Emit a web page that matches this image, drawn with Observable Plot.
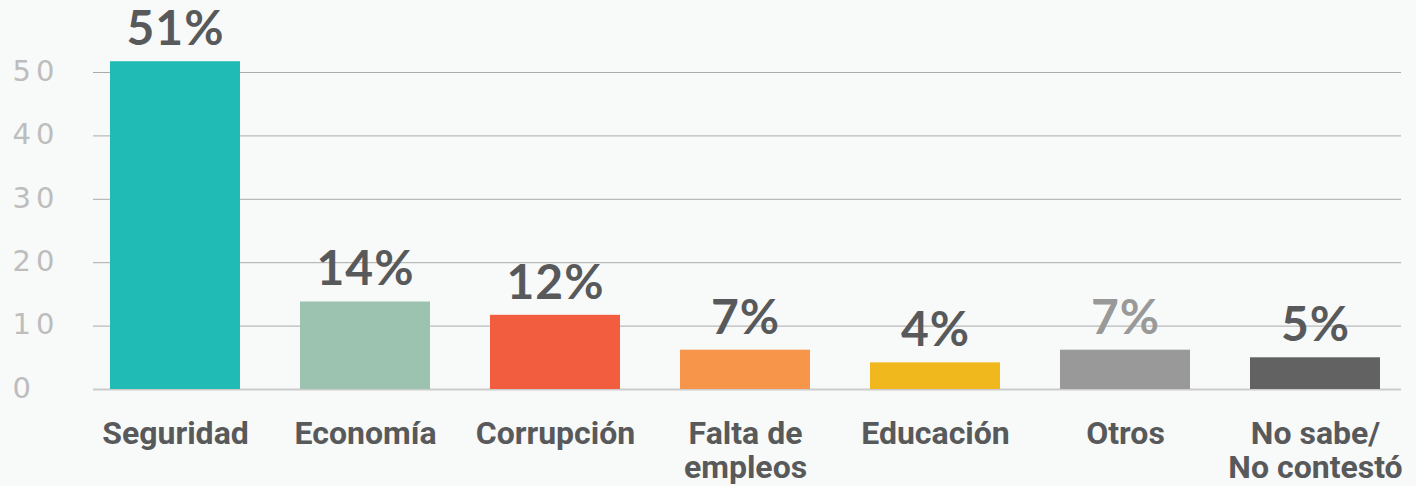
<!DOCTYPE html>
<html>
<head>
<meta charset="utf-8">
<script src="https://cdn.jsdelivr.net/npm/d3@7"></script>
<script src="https://cdn.jsdelivr.net/npm/@observablehq/plot@0.6"></script>
<style>
  html, body { margin: 0; padding: 0; background: #f8f9f9; }
  #chart svg { display: block; }
  #chart g[aria-label="y-axis tick label"] text { letter-spacing: 5px; }
  #chart g.value-labels text { letter-spacing: 1px; }
</style>
</head>
<body>
<div id="chart"></div>
<script>
const categories = ["Seguridad", "Economía", "Corrupción", "Falta de\nempleos", "Educación", "Otros", "No sabe/\nNo contestó"];
const values = [51.7, 13.8, 11.7, 6.2, 4.2, 6.2, 5.0];
const valueLabels = ["51%", "14%", "12%", "7%", "4%", "7%", "5%"];
const barColors = ["#20bbb4", "#9cc2b0", "#f25c3f", "#f7964a", "#f1b81e", "#999999", "#626262"];
const labelColors = ["#58595b", "#58595b", "#58595b", "#58595b", "#58595b", "#999999", "#58595b"];
const yTicks = [0, 10, 20, 30, 40, 50];

const data = categories.map((c, i) => ({
  cat: c, value: values[i], label: valueLabels[i], color: barColors[i], labelColor: labelColors[i]
}));

const chart = Plot.plot({
  width: 1416,
  height: 486,
  marginLeft: 93,
  marginRight: 15,
  marginTop: 72,
  marginBottom: 97,
  style: { background: "#f8f9f9", fontFamily: "Roboto, sans-serif" },
  x: { domain: categories, paddingInner: 0.3176, paddingOuter: 0.092, align: 0.45, axis: null, label: null },
  y: { domain: [0, 50], axis: null, label: null },
  color: { type: "identity" },
  marks: [
    Plot.ruleY(yTicks.filter(d => d > 0), { stroke: "#aaaaaa", strokeWidth: 1 }),
    Plot.ruleY([0], { stroke: "#cccccc", strokeWidth: 2 }),
    Plot.barY(data, { x: "cat", y: "value", fill: "color" }),
    Plot.text(data, {
      x: "cat", y: "value", text: "label", fill: "labelColor", className: "value-labels",
      dy: -32, fontSize: 48, fontWeight: 700, fontFamily: "Lato, sans-serif"
    }),
    Plot.axisX({
      label: null, tickSize: 0, tickPadding: 31, fontSize: 32, fontWeight: 700,
      fill: "#58595b", lineHeight: 1.05, fontFamily: "Roboto, sans-serif"
    }),
    Plot.axisY(yTicks, {
      label: null, tickSize: 0, tickPadding: 0, textAnchor: "start", dx: -81, dy: -1,
      fontSize: 29, fontWeight: 400, fill: "#bdbdbd", fontFamily: "'DejaVu Sans', sans-serif"
    })
  ]
});
document.getElementById("chart").appendChild(chart);
</script>
</body>
</html>
